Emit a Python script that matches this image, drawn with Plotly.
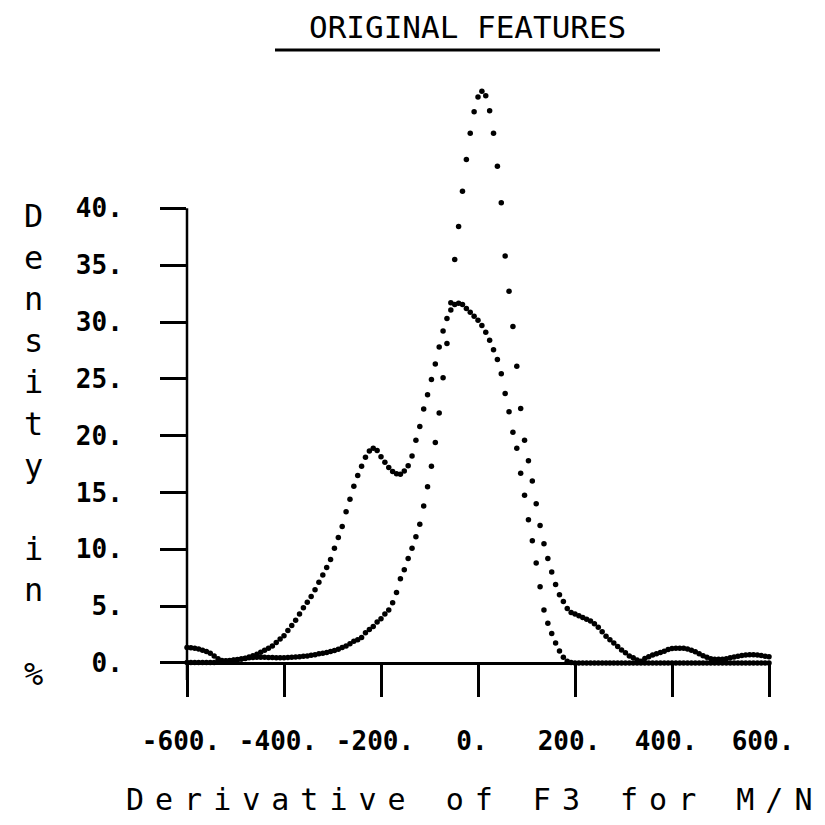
import plotly.graph_objects as go

# ---------------- data ----------------
X_VALUES = [
    -600, -592, -584, -576, -568, -560, -552, -544, -536, -528,
    -520, -512, -504, -496, -488, -480, -472, -464, -456, -448,
    -440, -432, -424, -416, -408, -400, -392, -384, -376, -368,
    -360, -352, -344, -336, -328, -320, -312, -304, -296, -288,
    -280, -272, -264, -256, -248, -240, -232, -224, -216, -208,
    -200, -192, -184, -176, -168, -160, -152, -144, -136, -128,
    -120, -112, -104, -96, -88, -80, -72, -64, -56, -48,
    -40, -32, -24, -16, -8, 0, 8, 16, 24, 32,
    40, 48, 56, 64, 72, 80, 88, 96, 104, 112,
    120, 128, 136, 144, 152, 160, 168, 176, 184, 192,
    200, 208, 216, 224, 232, 240, 248, 256, 264, 272,
    280, 288, 296, 304, 312, 320, 328, 336, 344, 352,
    360, 368, 376, 384, 392, 400, 408, 416, 424, 432,
    440, 448, 456, 464, 472, 480, 488, 496, 504, 512,
    520, 528, 536, 544, 552, 560, 568, 576, 584, 592,
    600,
]

# narrow, tall density (peak near 0) with right-hand tail
DENSITY_A = [
    1.35, 1.33, 1.30, 1.22, 1.12, 1.00, 0.86, 0.62, 0.38, 0.22,
    0.20, 0.22, 0.25, 0.30, 0.35, 0.40, 0.45, 0.48, 0.50, 0.50,
    0.50, 0.48, 0.47, 0.46, 0.45, 0.46, 0.48, 0.50, 0.52, 0.55,
    0.58, 0.62, 0.67, 0.72, 0.80, 0.86, 0.92, 1.00, 1.10, 1.20,
    1.35, 1.50, 1.68, 1.90, 2.05, 2.25, 2.65, 2.95, 3.20, 3.60,
    3.90, 4.30, 4.65, 5.30, 6.20, 7.40, 8.20, 9.20, 10.1, 11.1,
    12.2, 13.8, 15.5, 17.3, 19.4, 22.0, 25.1, 28.1, 31.7, 35.5,
    38.4, 41.5, 44.3, 46.6, 48.5, 49.8, 50.3, 49.9, 48.6, 46.6,
    43.7, 40.5, 35.8, 32.7, 29.6, 26.1, 22.4, 19.6, 17.8, 16.0,
    14.0, 12.1, 10.5, 9.2, 8.0, 6.9, 6.0, 5.4, 4.8, 4.45,
    4.30, 4.15, 4.00, 3.85, 3.70, 3.45, 3.15, 2.75, 2.35, 2.05,
    1.75, 1.45, 1.15, 0.90, 0.62, 0.45, 0.25, 0.15, 0.40, 0.55,
    0.70, 0.80, 0.92, 1.02, 1.18, 1.27, 1.30, 1.30, 1.29, 1.22,
    1.12, 0.98, 0.80, 0.63, 0.50, 0.38, 0.33, 0.33, 0.33, 0.38,
    0.45, 0.52, 0.60, 0.66, 0.70, 0.72, 0.72, 0.70, 0.65, 0.60,
    0.55,
]

# wider, bimodal density
DENSITY_B = [
    0.05, 0.05, 0.05, 0.05, 0.05, 0.05, 0.05, 0.05, 0.08, 0.12,
    0.16, 0.20, 0.24, 0.28, 0.34, 0.42, 0.52, 0.64, 0.76, 0.94,
    1.12, 1.30, 1.50, 1.80, 2.10, 2.40, 2.85, 3.30, 3.75, 4.30,
    4.85, 5.35, 5.85, 6.45, 7.10, 7.75, 8.40, 9.10, 10.1, 11.05,
    12.0, 13.3, 14.4, 15.55, 16.5, 17.3, 18.1, 18.65, 18.9, 18.7,
    18.15, 17.65, 17.2, 16.85, 16.65, 16.6, 16.9, 17.35, 18.2, 19.6,
    20.8, 22.35, 23.6, 24.95, 26.3, 27.8, 29.2, 30.3, 31.05, 31.55,
    31.66, 31.55, 31.2, 30.85, 30.5, 30.15, 29.7, 29.1, 28.4, 27.55,
    26.7, 25.45, 23.7, 22.1, 20.3, 18.9, 16.7, 14.75, 12.6, 10.75,
    8.8, 6.7, 4.65, 3.5, 2.6, 1.75, 1.05, 0.5, 0.15, 0.03,
    0, 0, 0, 0, 0, 0, 0, 0, 0, 0,
    0, 0, 0, 0, 0, 0, 0, 0, 0, 0,
    0, 0, 0, 0, 0, 0, 0, 0, 0, 0,
    0, 0, 0, 0, 0, 0, 0, 0, 0, 0,
    0, 0, 0, 0, 0, 0, 0, 0, 0, 0,
    0,
]

X_TICKS = [-600, -400, -200, 0, 200, 400, 600]
X_TICK_TEXT = ["-600.", "-400.", "-200.", "0.", "200.", "400.", "600."]
Y_TICKS = [0, 5, 10, 15, 20, 25, 30, 35, 40]
Y_TICK_TEXT = ["0.", "5.", "10.", "15.", "20.", "25.", "30.", "35.", "40."]

TITLE = "ORIGINAL FEATURES"
X_TITLE = "Derivative of F3 for M/N"
Y_TITLE_LETTERS = ["D", "e", "n", "s", "i", "t", "y", "", "i", "n", "", "%"]

# ---------------- geometry ----------------
MONO = "DejaVu Sans Mono"
Y_MIN, Y_MAX = -1.5, 52          # room above 40 for the tall peak
Y_AXIS_TOP = 40                  # the drawn y axis stops at 40
PAGE_OFF = 8                     # default body margin of the html page
M_L, M_R, M_T, M_B = 179, 64, 64, 153
W = H = 825
plot_w = W - M_L - M_R
plot_h = H - M_T - M_B


def px_to_paper_x(page_x):
    return (page_x - PAGE_OFF - M_L) / plot_w


def px_to_paper_y(page_y):
    return (H - M_B - (page_y - PAGE_OFF)) / plot_h


# ---------------- figure ----------------
fig = go.Figure()
for ys in (DENSITY_A, DENSITY_B):
    fig.add_trace(go.Scatter(
        x=X_VALUES, y=ys, mode="markers",
        marker=dict(size=5.5, color="black", line=dict(width=0)),
        cliponaxis=False, hoverinfo="skip", showlegend=False,
    ))

fig.update_layout(
    width=W, height=H,
    margin=dict(l=M_L, r=M_R, t=M_T, b=M_B),
    paper_bgcolor="white", plot_bgcolor="white",
    showlegend=False,
    xaxis=dict(
        range=[-600, 600], tickvals=X_TICKS, ticktext=X_TICK_TEXT,
        anchor="free", position=(0 - Y_MIN) / (Y_MAX - Y_MIN),
        showline=True, linecolor="black", linewidth=2.5,
        ticks="outside", ticklen=32, tickwidth=2.5, tickcolor="black",
        showgrid=False, zeroline=False,
        tickfont=dict(family=MONO, size=26, color="black", weight="bold"),
        ticklabelstandoff=22, ticklabelshift=-6,
    ),
    yaxis=dict(
        range=[Y_MIN, Y_MAX], tickvals=Y_TICKS, ticktext=Y_TICK_TEXT,
        showline=False,
        ticks="outside", ticklen=26, tickwidth=3, tickcolor="black",
        showgrid=False, zeroline=False,
        tickfont=dict(family=MONO, size=26, color="black", weight="bold"),
        ticklabelstandoff=32,
    ),
)

# y axis line, only from the bottom of the plot up to 40
fig.add_shape(type="line", xref="paper", yref="y",
              x0=0, x1=0, y0=Y_MIN, y1=Y_AXIS_TOP,
              line=dict(color="black", width=2.5))

annotations = [
    dict(text=TITLE, x=px_to_paper_x(467), y=px_to_paper_y(27),
         xref="paper", yref="paper", xanchor="center", yanchor="middle",
         showarrow=False, font=dict(family=MONO, size=31, color="black")),
    dict(text='<span style="letter-spacing:11px">' + X_TITLE + "</span>",
         x=px_to_paper_x(474), y=px_to_paper_y(799),
         xref="paper", yref="paper", xanchor="center", yanchor="middle",
         showarrow=False, font=dict(family=MONO, size=30, color="black")),
    dict(text="<br>".join(l if l else "&nbsp;" for l in Y_TITLE_LETTERS),
         x=px_to_paper_x(33), y=px_to_paper_y(444.5),
         xref="paper", yref="paper", xanchor="center", yanchor="middle",
         showarrow=False, font=dict(family=MONO, size=32, color="black")),
]
fig.update_layout(annotations=annotations)

# title underline
fig.add_shape(type="line", xref="paper", yref="paper",
              x0=px_to_paper_x(275), x1=px_to_paper_x(660),
              y0=px_to_paper_y(50), y1=px_to_paper_y(50),
              line=dict(color="black", width=3))

fig.write_html("out.html")
